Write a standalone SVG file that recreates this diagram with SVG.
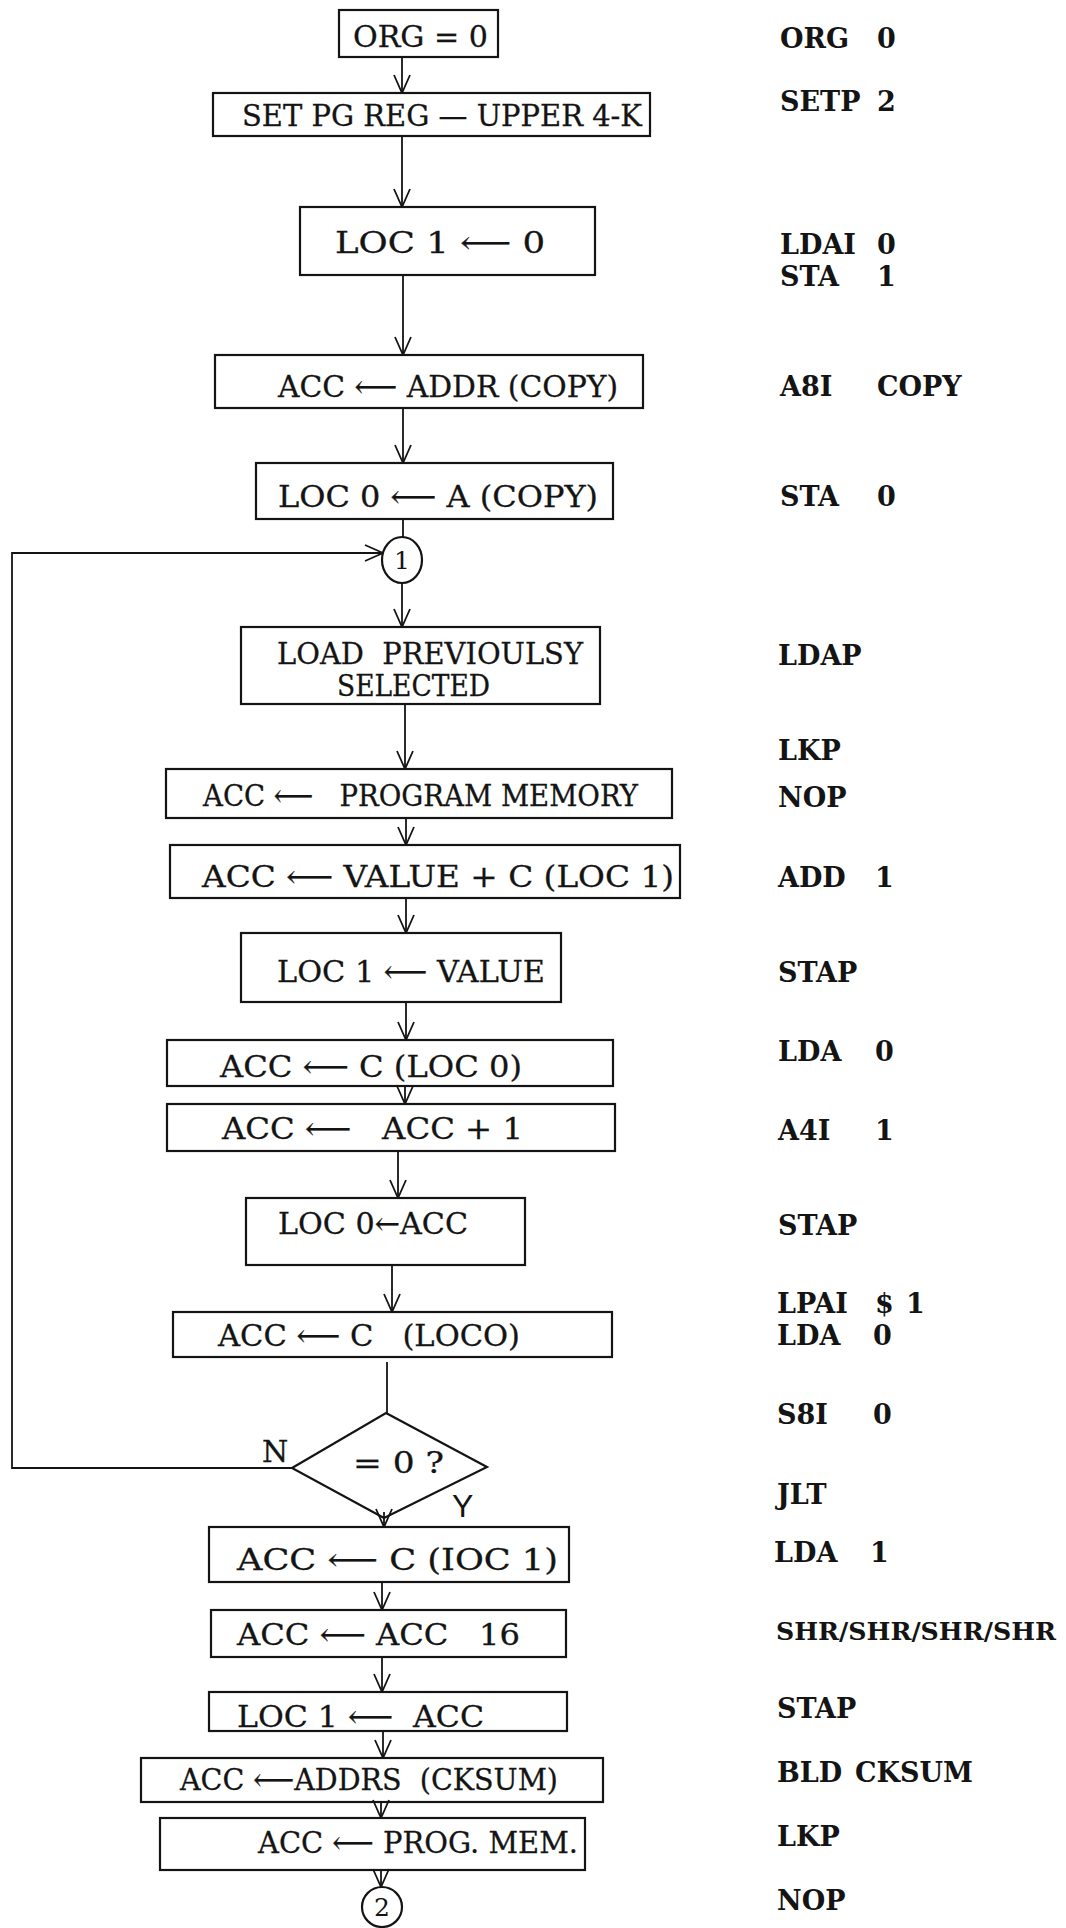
<svg xmlns="http://www.w3.org/2000/svg" width="1066" height="1928" viewBox="0 0 1066 1928">
<style>
text { white-space: pre; }
.bg { fill: #ffffff; }
.box { fill: none; stroke: #141414; stroke-width: 2.2; }
.con { fill: none; stroke: #141414; stroke-width: 1.8; }
.t { font-family: "DejaVu Serif", "DejaVu Sans", serif; font-size: 30px; fill: #141414; stroke: #141414; stroke-width: 0.3; }
.r { font-family: "DejaVu Serif", "DejaVu Sans", serif; font-size: 27px; font-weight: bold; fill: #141414; }
.rs { font-size: 24px; }
.c { font-family: "DejaVu Serif", "DejaVu Sans", serif; font-size: 25px; fill: #141414; text-anchor: middle; }
.h { font-family: "Liberation Sans", "DejaVu Sans", sans-serif; font-size: 32px; fill: #141414; }
</style>
<defs>
<marker id="ah" viewBox="-1 -9 20 18" refX="18" refY="0" markerWidth="20" markerHeight="18" markerUnits="userSpaceOnUse" orient="auto">
<path d="M0,-8 L18,0 L0,8" fill="none" stroke="#141414" stroke-width="1.8"/>
</marker>
</defs>
<rect class="bg" x="0" y="0" width="1066" height="1928"/>

<g id="connectors">
<line class="con" x1="402" y1="57" x2="402" y2="93" marker-end="url(#ah)"/>
<line class="con" x1="402" y1="136" x2="402" y2="207" marker-end="url(#ah)"/>
<line class="con" x1="403" y1="275" x2="403" y2="355" marker-end="url(#ah)"/>
<line class="con" x1="403" y1="408" x2="403" y2="463" marker-end="url(#ah)"/>
<line class="con" x1="403" y1="519" x2="403" y2="537"/>
<polyline class="con" points="292,1468 12,1468 12,553 383,553" marker-end="url(#ah)"/>
<line class="con" x1="402" y1="583" x2="402" y2="627" marker-end="url(#ah)"/>
<line class="con" x1="405" y1="704" x2="405" y2="769" marker-end="url(#ah)"/>
<line class="con" x1="406" y1="818" x2="406" y2="845" marker-end="url(#ah)"/>
<line class="con" x1="406" y1="898" x2="406" y2="933" marker-end="url(#ah)"/>
<line class="con" x1="406" y1="1002" x2="406" y2="1040" marker-end="url(#ah)"/>
<line class="con" x1="405" y1="1086" x2="405" y2="1104" marker-end="url(#ah)"/>
<line class="con" x1="398" y1="1151" x2="398" y2="1198" marker-end="url(#ah)"/>
<line class="con" x1="392" y1="1265" x2="392" y2="1312" marker-end="url(#ah)"/>
<line class="con" x1="387" y1="1362" x2="387" y2="1413"/>
<line class="con" x1="384" y1="1512" x2="384" y2="1527" marker-end="url(#ah)"/>
<line class="con" x1="382" y1="1582" x2="382" y2="1610" marker-end="url(#ah)"/>
<line class="con" x1="382" y1="1657" x2="382" y2="1692" marker-end="url(#ah)"/>
<line class="con" x1="383" y1="1731" x2="383" y2="1758" marker-end="url(#ah)"/>
<line class="con" x1="381" y1="1802" x2="381" y2="1818" marker-end="url(#ah)"/>
<line class="con" x1="381" y1="1870" x2="381" y2="1887" marker-end="url(#ah)"/>
</g>

<g id="n-org"><rect class="box" x="339" y="10" width="159" height="47"/><text class="t" x="353" y="47" textLength="135" lengthAdjust="spacingAndGlyphs">ORG = 0</text></g>
<g id="n-setp"><rect class="box" x="213" y="93" width="437" height="43"/><text class="t" x="242" y="126" textLength="400" lengthAdjust="spacingAndGlyphs">SET PG REG — UPPER 4-K</text></g>
<g id="n-loc1-0"><rect class="box" x="300" y="207" width="295" height="68"/><text class="t" x="335" y="253" textLength="210" lengthAdjust="spacingAndGlyphs">LOC 1 ⟵ 0</text></g>
<g id="n-acc-addr"><rect class="box" x="215" y="355" width="428" height="53"/><text class="t" x="278" y="397" textLength="340" lengthAdjust="spacingAndGlyphs">ACC ⟵ ADDR (COPY)</text></g>
<g id="n-loc0-a"><rect class="box" x="256" y="463" width="357" height="56"/><text class="t" x="278" y="507" textLength="320" lengthAdjust="spacingAndGlyphs">LOC 0 ⟵ A (COPY)</text></g>
<g id="n-conn1"><ellipse class="box" cx="402" cy="560" rx="20" ry="23"/><text class="c" x="402" y="569">1</text></g>
<g id="n-load"><rect class="box" x="241" y="627" width="359" height="77"/><text class="t"><tspan x="277" y="664" textLength="306" lengthAdjust="spacingAndGlyphs">LOAD  PREVIOULSY</tspan><tspan x="337" y="696" textLength="153" lengthAdjust="spacingAndGlyphs">SELECTED</tspan></text></g>
<g id="n-progmem"><rect class="box" x="166" y="769" width="506" height="49"/><text class="t" x="203" y="806" textLength="435" lengthAdjust="spacingAndGlyphs">ACC ⟵   PROGRAM MEMORY</text></g>
<g id="n-value"><rect class="box" x="170" y="845" width="510" height="53"/><text class="t" x="202" y="887" textLength="472" lengthAdjust="spacingAndGlyphs">ACC ⟵ VALUE + C (LOC 1)</text></g>
<g id="n-loc1-value"><rect class="box" x="241" y="933" width="320" height="69"/><text class="t" x="277" y="982" textLength="268" lengthAdjust="spacingAndGlyphs">LOC 1 ⟵ VALUE</text></g>
<g id="n-acc-cloc0"><rect class="box" x="167" y="1040" width="446" height="46"/><text class="t" x="220" y="1077" textLength="302" lengthAdjust="spacingAndGlyphs">ACC ⟵ C (LOC 0)</text></g>
<g id="n-acc-inc"><rect class="box" x="167" y="1104" width="448" height="47"/><text class="t" x="222" y="1139" textLength="301" lengthAdjust="spacingAndGlyphs">ACC ⟵   ACC + 1</text></g>
<g id="n-loc0-acc"><rect class="box" x="246" y="1198" width="279" height="67"/><text class="t" x="278" y="1234" textLength="190" lengthAdjust="spacingAndGlyphs">LOC 0←ACC</text></g>
<g id="n-acc-loco"><rect class="box" x="173" y="1312" width="439" height="45"/><text class="t" x="218" y="1346" textLength="302" lengthAdjust="spacingAndGlyphs">ACC ⟵ C   (LOCO)</text></g>
<g id="n-decision"><polygon class="box" points="386,1413 487,1467 384,1518 292,1468"/><text class="t" x="353" y="1473" textLength="91" lengthAdjust="spacingAndGlyphs">= 0 ?</text></g>
<g id="n-acc-cioc1"><rect class="box" x="209" y="1527" width="360" height="55"/><text class="t" x="237" y="1570" textLength="321" lengthAdjust="spacingAndGlyphs">ACC ⟵ C (IOC 1)</text></g>
<g id="n-acc-16"><rect class="box" x="211" y="1610" width="355" height="47"/><text class="t" x="237" y="1645" textLength="283" lengthAdjust="spacingAndGlyphs">ACC ⟵ ACC   16</text></g>
<g id="n-loc1-acc"><rect class="box" x="209" y="1692" width="358" height="39"/><text class="t" x="237" y="1727" textLength="247" lengthAdjust="spacingAndGlyphs">LOC 1 ⟵  ACC</text></g>
<g id="n-addrs"><rect class="box" x="141" y="1758" width="462" height="44"/><text class="t" x="180" y="1790" textLength="378" lengthAdjust="spacingAndGlyphs">ACC ⟵ADDRS  (CKSUM)</text></g>
<g id="n-progmem2"><rect class="box" x="160" y="1818" width="425" height="52"/><text class="t" x="258" y="1853" textLength="320" lengthAdjust="spacingAndGlyphs">ACC ⟵ PROG. MEM.</text></g>
<g id="n-conn2"><ellipse class="box" cx="382" cy="1907" rx="20" ry="20"/><text class="c" x="382" y="1916">2</text></g>

<g id="labels">
<text class="t" x="262" y="1462">N</text>
<text class="h" x="452" y="1517">Y</text>
</g>

<g id="code">
<text class="r" y="48"><tspan x="780">ORG  </tspan><tspan x="877">0</tspan></text>
<text class="r" y="111"><tspan x="780">SETP </tspan><tspan x="877">2</tspan></text>
<text class="r"><tspan x="780" y="254">LDAI </tspan><tspan x="877" y="254">0</tspan><tspan x="780" y="286">STA  </tspan><tspan x="877" y="286">1</tspan></text>
<text class="r" y="396"><tspan x="780">A8I  </tspan><tspan x="877">COPY</tspan></text>
<text class="r" y="506"><tspan x="780">STA  </tspan><tspan x="877">0</tspan></text>
<text class="r" x="778" y="665">LDAP</text>
<text class="r" x="778" y="760">LKP</text>
<text class="r" x="778" y="807">NOP</text>
<text class="r" y="887"><tspan x="778">ADD  </tspan><tspan x="875">1</tspan></text>
<text class="r" x="778" y="982">STAP</text>
<text class="r" y="1061"><tspan x="778">LDA  </tspan><tspan x="875">0</tspan></text>
<text class="r" y="1140"><tspan x="778">A4I  </tspan><tspan x="875">1</tspan></text>
<text class="r" x="778" y="1235">STAP</text>
<text class="r"><tspan x="777" y="1313">LPAI </tspan><tspan x="875" y="1313">$ </tspan><tspan x="906" y="1313">1</tspan><tspan x="777" y="1345">LDA  </tspan><tspan x="873" y="1345">0</tspan></text>
<text class="r" y="1424"><tspan x="777">S8I  </tspan><tspan x="873">0</tspan></text>
<text class="r" x="777" y="1504">JLT</text>
<text class="r" y="1562"><tspan x="774">LDA  </tspan><tspan x="870">1</tspan></text>
<text class="r rs" x="776" y="1640" textLength="280" lengthAdjust="spacingAndGlyphs">SHR/SHR/SHR/SHR</text>
<text class="r" x="777" y="1718">STAP</text>
<text class="r" y="1782"><tspan x="777">BLD </tspan><tspan x="855">CKSUM</tspan></text>
<text class="r" x="777" y="1846">LKP</text>
<text class="r" x="777" y="1910">NOP</text>
</g>
</svg>
